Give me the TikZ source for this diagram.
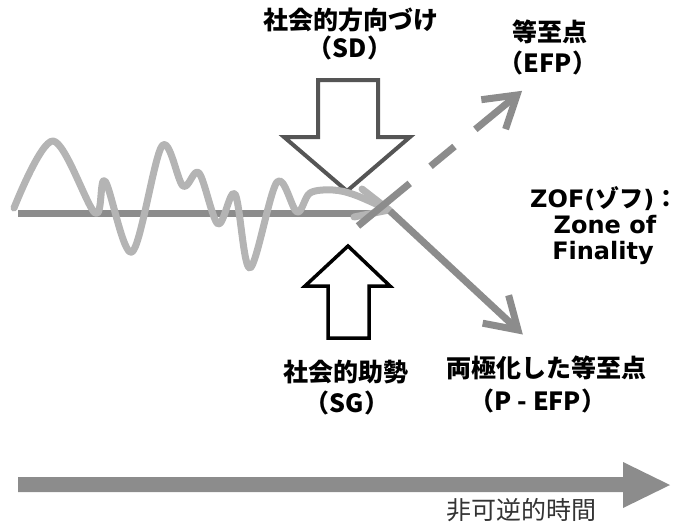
\documentclass[tikz,border=0pt]{standalone}
\usepackage{fontspec}
\newfontfamily\jp{Noto Sans CJK JP}
\newfontfamily\dvs{DejaVu Sans}
\usetikzlibrary{calc}
\definecolor{midgray}{HTML}{8C8C8C}
\definecolor{lightgray}{HTML}{B4B4B4}
\definecolor{sdgray}{HTML}{555555}
\definecolor{timetext}{HTML}{333333}
\tikzset{
  jplabel/.style={font=\jp\bfseries\fontsize{25}{25}\selectfont, inner sep=0pt, anchor=base},
  timelabel/.style={font=\jp\fontsize{25}{25}\selectfont, text=timetext, inner sep=0pt, anchor=base},
  zoflabel/.style={font=\dvs\bfseries\fontsize{24}{24}\selectfont, inner sep=0pt, anchor=base},
  thickgray/.style={draw=midgray, line width=7pt},
  wavestyle/.style={draw=lightgray, line width=7pt, line cap=round, line join=round},
  sdarrow/.style={draw=sdgray, fill=white, line width=4pt, line join=miter},
  sgarrow/.style={draw=black, fill=white, line width=3.5pt, line join=miter},
}
\begin{document}
\begin{tikzpicture}[x=1pt,y=-1pt]
\useasboundingbox (0,0) rectangle (679,527);
\begin{scope}
\clip (0,0) rectangle (679,527);

% key points
\coordinate (base0) at (18,213);
\coordinate (base1) at (372,213);
\coordinate (cross) at (390,211);
\coordinate (sw) at (358,226);
\coordinate (efptip) at (517,95);
\coordinate (pefptip) at (518,330);
\coordinate (wavetip) at (389,210);

% block arrows
\draw[sdarrow] (318,80) -- (378,80) -- (378,137) -- (410,137) -- (347,191) -- (284,137) -- (318,137) -- cycle;
\draw[sgarrow] (328,338) -- (369,338) -- (369,286) -- (390,286) -- (348,246) -- (305,286) -- (328,286) -- cycle;

% baseline
\draw[thickgray] (base0) -- (base1);

% wavy path
\draw[wavestyle] plot[smooth, tension=0.55] coordinates {
  (14,208) (53,141) (95,213) (105,181) (132,252) (162,146) (183,186)
  (199,173) (218,224) (235,194) (250,268) (277,182) (297,212) (310,193)
  (333,190) (355,195) (389,210)};
\draw[wavestyle] (362,189) -- (wavetip) -- (354,217);

% dashed arrow to EFP
\draw[thickgray, line cap=butt, dash pattern=on 67pt off 27pt on 31pt off 27pt on 60pt] (sw) -- (efptip);
\draw[thickgray, line join=miter] ($(efptip)!36pt!32:(sw)$) -- (efptip) -- ($(efptip)!36pt!-32:(sw)$);

% arrow to P-EFP
\draw[thickgray] (cross) -- (pefptip);
\draw[thickgray, line join=miter] ($(pefptip)!36pt!32:(cross)$) -- (pefptip) -- ($(pefptip)!36pt!-32:(cross)$);

% time arrow
\fill[midgray] (18,477) -- (623,477) -- (623,462) -- (670,485) -- (623,508) -- (623,492) -- (18,492) -- cycle;

% labels
\node[jplabel] (sd1) at (351,29.5) {社会的方向づけ};
\node[jplabel] (sd2) at (350,57) {（SD）};
\node[jplabel] (efp1) at (550,41.5) {等至点};
\node[jplabel] (efp2) at (548,72) {（EFP）};
\node[jplabel] (sg1) at (346,381.5) {社会的助勢};
\node[jplabel] (sg2) at (347,412) {（SG）};
\node[jplabel] (pefp1) at (546,377.5) {両極化した等至点};
\node[jplabel] (pefp2) at (538,410) {（P - EFP）};
\node[timelabel] (time) at (521,519.5) {非可逆的時間};
\node[zoflabel, anchor=base west] (zof1) at (530,207) {ZOF({\jp\bfseries ゾフ}){\jp\bfseries ：}\hspace{-13pt}};
\node[zoflabel] (zof2) at (605,233) {Zone of};
\node[zoflabel] (zof3) at (603,259) {Finality};
\end{scope}
\end{tikzpicture}
\end{document}
